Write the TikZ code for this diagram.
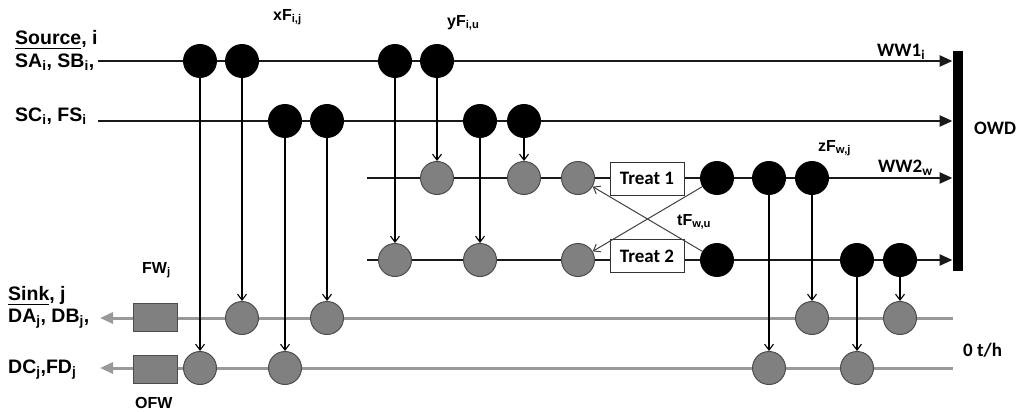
\documentclass[tikz,border=0pt]{standalone}
\usepackage{fontspec}
\usepackage{amsmath}
\setmainfont{Liberation Sans}
\newfontfamily\calib{Carlito}
\usetikzlibrary{arrows.meta}
\newcommand{\lsub}[1]{$_{\text{#1}}$}
\begin{document}
\begin{tikzpicture}[x=1pt,y=-1pt,
  mainline/.style={line width=2.5pt, draw=black!90, -{Triangle[length=13pt,width=11pt]}},
  plainline/.style={line width=2.5pt, draw=black!90},
  sinkline/.style={line width=3pt, draw=black!40, {Triangle[length=13pt,width=11pt]}-},
  blk/.style={circle, fill=black, minimum size=34pt, inner sep=0pt},
  gry/.style={circle, fill=black!50, draw=black!70, line width=1pt, minimum size=33pt, inner sep=0pt},
  treatbox/.style={draw=black!80, fill=white, line width=1pt, minimum width=74pt, minimum height=33pt, inner sep=0pt, font=\calib\bfseries\fontsize{19}{19}\selectfont},
  gbox/.style={draw=black!70, fill=black!50, line width=1pt, minimum width=44pt, minimum height=28pt, inner sep=0pt},
  vconn/.style={line width=1.1pt, draw=black, -{Straight Barb[length=6pt,width=9pt]}},
  xconn/.style={line width=1pt, draw=black!75, -{Straight Barb[length=6pt,width=9pt]}},
  biglab/.style={anchor=west, inner sep=0pt, font=\bfseries\fontsize{19.5}{20}\selectfont},
  midlab/.style={anchor=west, inner sep=0pt, font=\bfseries\fontsize{16}{16}\selectfont},
  callab/.style={anchor=west, inner sep=0pt, font=\calib\bfseries\fontsize{19}{19}\selectfont}
]
\useasboundingbox (0,0) rectangle (1021,412);

% OWD bar
\node[fill=black, minimum width=10pt, minimum height=220pt, inner sep=0pt] (owd) at (957.7,160.7) {};

% line start points
\coordinate (r1s) at (98,61);
\coordinate (r2s) at (98,121);
\coordinate (r3s) at (367,178);
\coordinate (r4s) at (367,260);
\coordinate (s1s) at (100,318);
\coordinate (s2s) at (100,368);
\coordinate (s1e) at (953,318);
\coordinate (s2e) at (953,368);

\draw[mainline] (r1s) -- (r1s -| owd.west);
\draw[mainline] (r2s) -- (r2s -| owd.west);
\draw[mainline] (r3s) -- (r3s -| owd.west);
\draw[mainline] (r4s) -- (r4s -| owd.west);
\draw[sinkline] (s1s) -- (s1e);
\draw[sinkline] (s2s) -- (s2e);

% boxes
\node[treatbox] (t1) at (647,178.5) {Treat 1};
\node[treatbox] (t2) at (647,256) {Treat 2};
\node[gbox] (fw) at (155,317.5) {};
\node[gbox] (ofw) at (155,369) {};

% row 1 black
\node[blk] (r1A) at (200,61) {};
\node[blk] (r1B) at (242,61) {};
\node[blk] (r1E) at (395,61) {};
\node[blk] (r1F) at (437,61) {};
% row 2 black
\node[blk] (r2C) at (285,121) {};
\node[blk] (r2D) at (327,121) {};
\node[blk] (r2G) at (480,121) {};
\node[blk] (r2H) at (524,121) {};
% row 3
\node[gry] (r3F) at (437,178) {};
\node[gry] (r3H) at (524,178) {};
\node[gry] (r3I) at (578,178) {};
\node[blk] (r3J) at (717,178) {};
\node[blk] (r3K) at (769,178) {};
\node[blk] (r3L) at (812,178) {};
% row 4
\node[gry] (r4E) at (395,260) {};
\node[gry] (r4G) at (480,260) {};
\node[gry] (r4I) at (578,260) {};
\node[blk] (r4J) at (717,260) {};
\node[blk] (r4M) at (857,260) {};
\node[blk] (r4N) at (900,260) {};
% sink 1
\node[gry] (s1B) at (242,318) {};
\node[gry] (s1D) at (327,318) {};
\node[gry] (s1L) at (812,318) {};
\node[gry] (s1N) at (900,318) {};
% sink 2
\node[gry] (s2A) at (200,368) {};
\node[gry] (s2C) at (285,368) {};
\node[gry] (s2K) at (769,368) {};
\node[gry] (s2M) at (857,368) {};

% vertical connectors
\draw[vconn] (r1A) -- (s2A);
\draw[vconn] (r1B) -- (s1B);
\draw[vconn] (r2C) -- (s2C);
\draw[vconn] (r2D) -- (s1D);
\draw[vconn] (r1E) -- (r4E);
\draw[vconn] (r1F) -- (r3F);
\draw[vconn] (r2G) -- (r4G);
\draw[vconn] (r2H) -- (r3H);
\draw[vconn] (r3K) -- (s2K);
\draw[vconn] (r3L) -- (s1L);
\draw[vconn] (r4M) -- (s2M);
\draw[vconn] (r4N) -- (s1N);
% cross connectors
\draw[xconn] (r3J) -- (r4I);
\draw[xconn] (r4J) -- (r3I);

% labels
\node[biglab] (lsrc) at (15,40) {\underline{Source}, i};
\node[biglab] (lsab) at (15,62) {SA\lsub{i}, SB\lsub{i},};
\node[biglab] (lscf) at (15,116) {SC\lsub{i}, FS\lsub{i}};
\node[biglab] (lsnk) at (8,296) {\underline{Sink}, j};
\node[biglab] (ldab) at (8,319) {DA\lsub{j}, DB\lsub{j},};
\node[biglab] (ldcf) at (8,370) {DC\lsub{j},FD\lsub{j}};
\node[midlab] (lxf) at (273,17) {xF\lsub{i,j}};
\node[midlab] (lyf) at (447,23) {yF\lsub{i,u}};
\node[midlab] (lzf) at (818,148) {zF\lsub{w,j}};
\node[midlab] (ltf) at (677,222) {tF\lsub{w,u}};
\node[midlab] (lfw) at (142,270) {FW\lsub{j}};
\node[midlab] (lofw) at (135,403) {OFW};
\node[callab] (lww1) at (877,52) {WW1\lsub{i}};
\node[callab] (lww2) at (878,168) {WW2\lsub{w}};
\node[callab] (lowd) at (974,128) {OWD};
\node[callab] (lzero) at (963,350) {0 t/h};
\end{tikzpicture}
\end{document}
